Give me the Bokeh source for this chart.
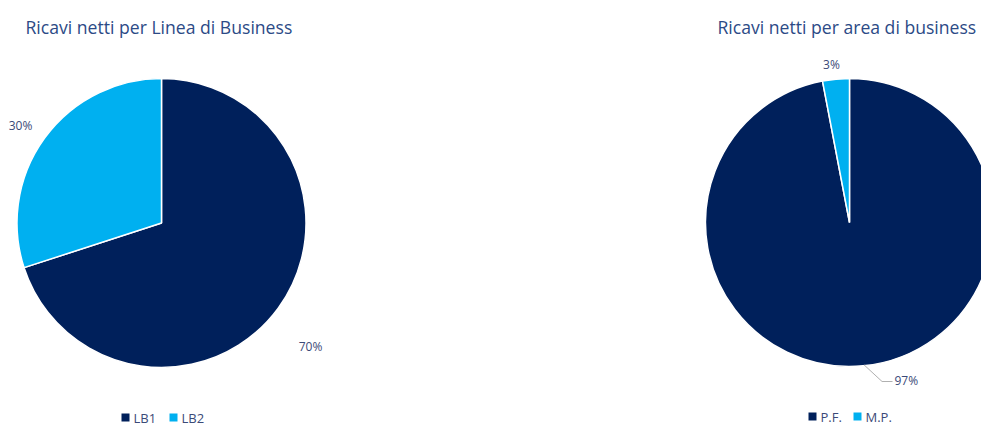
import numpy as np
from bokeh.plotting import figure
from bokeh.models import Range1d, ColumnDataSource
from bokeh.core.properties import value
from bokeh.embed import file_html
from bokeh.resources import INLINE

# data
lb_categories = ["LB1", "LB2"]
lb_values = [70, 30]
area_categories = ["P.F.", "M.P."]
area_values = [97, 3]
colors = ["#00205b", "#00b0f0"]
title_left = "Ricavi netti per Linea di Business"
title_right = "Ricavi netti per area di business"

W, H = 981, 425
p = figure(width=W, height=H, x_range=Range1d(0, W), y_range=Range1d(0, H),
           output_backend="svg", toolbar_location=None, min_border=0)
p.axis.visible = False
p.grid.visible = False
p.outline_line_color = None
p.background_fill_color = "white"

FONT = value("Open Sans")
TITLE_COLOR = "#2c4a86"
LABEL_COLOR = "#3b4a78"


def Y(y):
    return H - y


def pie(cx, cy, r, vals):
    vals = np.array(vals, dtype=float)
    frac = vals / vals.sum()
    cum = np.concatenate([[0], np.cumsum(frac)])
    start = np.pi / 2 - cum[:-1] * 2 * np.pi
    end = np.pi / 2 - cum[1:] * 2 * np.pi
    src = ColumnDataSource(dict(x=[cx] * len(vals), y=[Y(cy)] * len(vals),
                                start=start, end=end, color=colors[:len(vals)]))
    p.wedge(x="x", y="y", radius=r, start_angle="start", end_angle="end",
            direction="clock", fill_color="color", line_color="white",
            line_width=1.5, source=src)
    mid = (start + end) / 2
    return mid


# left pie
midL = pie(161, 222.5, 144.5, lb_values)
# right pie
midR = pie(849, 222, 144, area_values)

# titles
p.text(x=[25], y=[Y(26)], text=[title_left], text_font=FONT, text_font_size="17.6px",
       text_color=TITLE_COLOR, text_baseline="middle", text_align="left")
p.text(x=[717], y=[Y(26)], text=[title_right], text_font=FONT, text_font_size="17.6px",
       text_color=TITLE_COLOR, text_baseline="middle", text_align="left")

LBL = "12px"
# left labels
p.text(x=[310], y=[Y(346)], text=[f"{lb_values[0]}%"], text_font=FONT, text_font_size=LBL,
       text_color=LABEL_COLOR, text_baseline="middle", text_align="center")
p.text(x=[20], y=[Y(125)], text=[f"{lb_values[1]}%"], text_font=FONT, text_font_size=LBL,
       text_color=LABEL_COLOR, text_baseline="middle", text_align="center")

# right labels
p.text(x=[831], y=[Y(64)], text=[f"{area_values[1]}%"], text_font=FONT, text_font_size=LBL,
       text_color=LABEL_COLOR, text_baseline="middle", text_align="center")
p.text(x=[894], y=[Y(380)], text=[f"{area_values[0]}%"], text_font=FONT, text_font_size=LBL,
       text_color=LABEL_COLOR, text_baseline="middle", text_align="left")
# leader line for 97%
r = 144
ex = 849 + r * np.cos(midR[0])
ey = 222 - r * np.sin(midR[0])
p.line(x=[ex + 1, ex + 19, 892], y=[Y(ey - 1), Y(381), Y(381)], line_color="#b0b0b0", line_width=1)


# legends
def legend(x0, y0, cats, gap):
    x = x0
    for i, c in enumerate(cats):
        p.scatter(x=[x], y=[Y(y0)], marker="square", size=8, fill_color=colors[i], line_color=None)
        p.text(x=[x + 8], y=[Y(y0)], text=[c], text_font=FONT, text_font_size="13px",
               text_color=LABEL_COLOR, text_baseline="middle", text_align="left")
        x += gap


legend(125, 417, lb_categories, 48)
legend(812, 416, area_categories, 45)

open("out.html", "w").write(file_html(p, INLINE))
